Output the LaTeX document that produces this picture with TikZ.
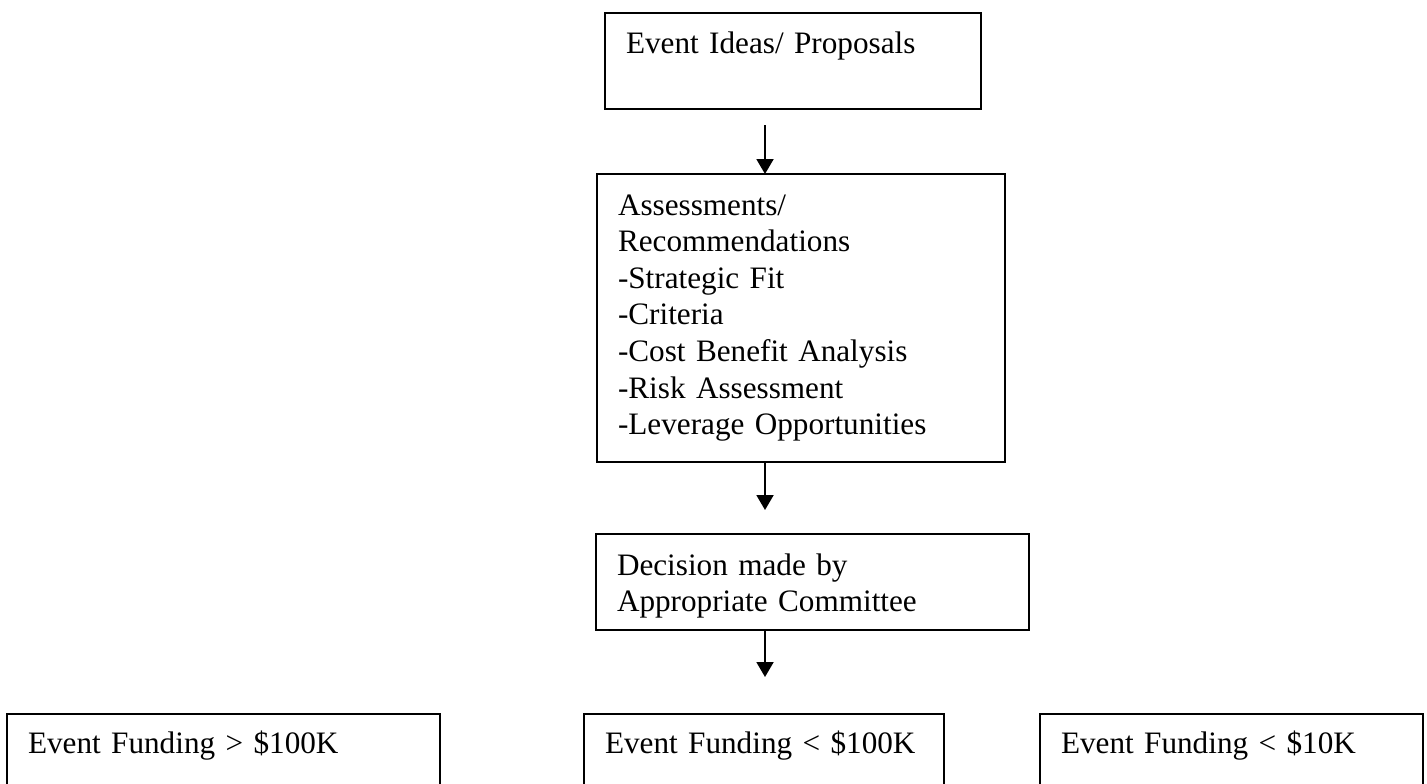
\documentclass[tikz,border=0pt]{standalone}
\usepackage{fontspec}
\setmainfont{Liberation Serif}
\usetikzlibrary{arrows.meta}

\begin{document}
\begin{tikzpicture}[x=0.5pt,y=-0.5pt,line width=1pt]
\tikzstyle{box}=[draw,rectangle,anchor=north west,align=left,inner xsep=10.5pt,inner ysep=0pt,outer sep=0pt,font=\fontsize{15.6pt}{18.3pt}\selectfont,text height=20pt,text depth=28pt]
\tikzstyle{flow}=[-{Triangle[width=8.5pt,length=7.5pt]}]
\useasboundingbox (0,0) rectangle (1427,783);
\clip (0,0) rectangle (1427,783);
\coordinate (spine) at (765,0);

\node[box,text width=167pt](ideas) at (605,13) {Event Ideas/ Proposals};
\node[box,text width=183pt,text height=20.5pt,text depth=123.5pt](assess) at (597,174) {Assessments/\\Recommendations\\-Strategic Fit\\-Criteria\\-Cost Benefit Analysis\\-Risk Assessment\\-Leverage Opportunities};
\node[box,text width=195.5pt,text height=20.5pt,text depth=27.5pt](decide) at (596,534) {Decision made by\\Appropriate Committee};
\node[box,text width=195.5pt,text height=19.5pt](over) at (7,714) {Event Funding > \$100K};
\node[box,text width=159pt,text height=19.5pt](under) at (584,714) {Event Funding < \$100K};
\node[box,text width=170.5pt,text height=19.5pt](small) at (1040,714) {Event Funding < \$10K};

\draw[flow,shorten <=8pt] (ideas.south -| spine) -- (assess.north -| spine);
\draw[flow,shorten >=12pt] (assess.south -| spine) -- (decide.north -| spine);
\draw[flow,shorten >=18.5pt] (decide.south -| spine) -- (under.north -| spine);
\end{tikzpicture}
\end{document}
